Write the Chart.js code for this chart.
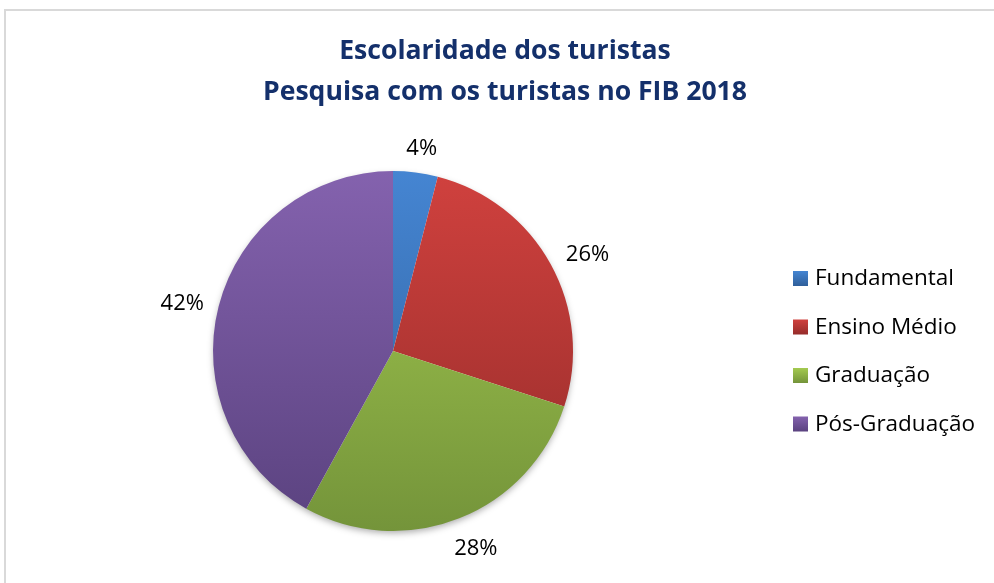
<!DOCTYPE html>
<html>
<head>
<meta charset="utf-8">
<script src="https://cdn.jsdelivr.net/npm/chart.js@4"></script>
<style>
  html, body { margin: 0; padding: 0; background: #fff; overflow: hidden; }
  #frame { position: absolute; left: 4px; top: 9px; width: 1100px; height: 700px; border: 2px solid #d9d9d9; }
  #chart { position: absolute; left: 0; top: 0; }
</style>
</head>
<body>
<div id="frame"></div>
<canvas id="chart" width="994" height="583"></canvas>
<script>
const titleLines = ['Escolaridade dos turistas', 'Pesquisa com os turistas no FIB 2018'];
const categories = ['Fundamental', 'Ensino Médio', 'Graduação', 'Pós-Graduação'];
const shares = [4, 26, 28, 42];
const topColors = ['#4585d2', '#d0413e', '#a4ca50', '#8462ae'];
const bottomColors = ['#2f5f9a', '#952c2a', '#74943a', '#5a427f'];
const baseColors = ['#3d7dcb', '#c83e3b', '#97be4a', '#7b5aa6'];

const FONT = '"Open Sans", Lato, sans-serif';

const sliceFill = (ctx) => {
  const chart = ctx.chart;
  const area = chart.chartArea;
  const i = ctx.dataIndex;
  if (!area) return baseColors[i];
  const g = chart.ctx.createLinearGradient(0, area.top, 0, area.bottom);
  g.addColorStop(0, topColors[i]);
  g.addColorStop(1, bottomColors[i]);
  return g;
};

// soft shadow under the pie
const pieShadow = {
  id: 'pieShadow',
  beforeDatasetsDraw(chart) {
    const arc = chart.getDatasetMeta(0).data[0];
    if (!arc) return;
    const c = chart.ctx;
    c.save();
    c.shadowColor = 'rgba(0,0,0,0.35)';
    c.shadowBlur = 7;
    c.shadowOffsetY = 3;
    c.fillStyle = '#fff';
    c.beginPath();
    c.arc(arc.x, arc.y, arc.outerRadius - 1, 0, Math.PI * 2);
    c.fill();
    c.restore();
  }
};

const decorations = {
  id: 'decorations',
  afterDraw(chart) {
    const c = chart.ctx;
    c.save();

    // title
    c.fillStyle = '#14306b';
    c.font = 'bold 26.6px ' + FONT;
    c.textAlign = 'center';
    c.textBaseline = 'alphabetic';
    c.fillText(titleLines[0], 505, 59);
    c.fillText(titleLines[1], 505, 100);

    // percentage labels outside each slice
    const meta = chart.getDatasetMeta(0);
    const total = shares.reduce((s, v) => s + v, 0);
    c.font = '22px ' + FONT;
    c.fillStyle = '#000';
    c.textAlign = 'center';
    c.textBaseline = 'middle';
    meta.data.forEach((arc, i) => {
      const mid = (arc.startAngle + arc.endAngle) / 2;
      const txt = Math.round(shares[i] / total * 100) + '%';
      const w = c.measureText(txt).width;
      const h = 20;
      const r = arc.outerRadius + 18;
      const cx = Math.cos(mid), cy = Math.sin(mid);
      const x = arc.x + r * cx + cx * w / 2 + 2;
      const y = arc.y + r * cy + cy * h / 2 + 4;
      c.fillText(txt, x, y);
    });

    // legend
    c.font = '22.5px ' + FONT;
    c.textAlign = 'left';
    c.textBaseline = 'middle';
    categories.forEach((name, i) => {
      const y = 278 + i * 48.5;
      const g = c.createLinearGradient(0, y - 7, 0, y + 8);
      g.addColorStop(0, topColors[i]);
      g.addColorStop(1, bottomColors[i]);
      c.fillStyle = g;
      c.fillRect(793, y - 7, 15, 15);
      c.fillStyle = '#000';
      c.fillText(name, 815, y + 1);
    });

    c.restore();
  }
};

new Chart(document.getElementById('chart'), {
  type: 'pie',
  data: {
    labels: categories,
    datasets: [{
      data: shares,
      backgroundColor: sliceFill,
      borderWidth: 0,
      hoverOffset: 0
    }]
  },
  options: {
    responsive: false,
    animation: false,
    events: [],
    layout: { padding: { left: 213, right: 421, top: 171, bottom: 52 } },
    plugins: {
      legend: { display: false },
      title: { display: false },
      tooltip: { enabled: false }
    }
  },
  plugins: [pieShadow, decorations]
});
</script>
</body>
</html>
